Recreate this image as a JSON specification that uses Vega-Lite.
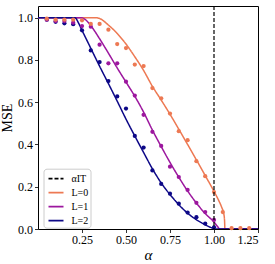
{
  "$schema": "https://vega.github.io/schema/vega-lite/v6.json",
  "width": 220,
  "height": 223,
  "autosize": {"type": "none"},
  "padding": {"left": 38, "top": 6, "right": 17, "bottom": 35},
  "background": "white",
  "config": {
    "view": {"stroke": "black", "strokeWidth": 1},
    "font": "Liberation Serif",
    "axis": {
      "labelFont": "Liberation Serif",
      "titleFont": "Liberation Serif",
      "labelFontSize": 12,
      "labelColor": "black",
      "titleColor": "black",
      "tickColor": "black",
      "domainColor": "black",
      "tickSize": 3.5,
      "tickWidth": 0.8,
      "grid": false,
      "domain": false,
      "labelPadding": 2
    },
    "legend": {
      "labelFont": "Liberation Serif",
      "labelFontSize": 10,
      "labelColor": "black"
    }
  },
  "datasets": {
    "lines": [
      {"a": 0, "mse": 1, "series": "L=0"},
      {"a": 0.33, "mse": 1, "series": "L=0"},
      {"a": 0.35, "mse": 0.996, "series": "L=0"},
      {"a": 0.40, "mse": 0.965, "series": "L=0"},
      {"a": 0.45, "mse": 0.925, "series": "L=0"},
      {"a": 0.50, "mse": 0.875, "series": "L=0"},
      {"a": 0.55, "mse": 0.815, "series": "L=0"},
      {"a": 0.60, "mse": 0.75, "series": "L=0"},
      {"a": 0.65, "mse": 0.675, "series": "L=0"},
      {"a": 0.70, "mse": 0.61, "series": "L=0"},
      {"a": 0.75, "mse": 0.543, "series": "L=0"},
      {"a": 0.80, "mse": 0.472, "series": "L=0"},
      {"a": 0.85, "mse": 0.40, "series": "L=0"},
      {"a": 0.90, "mse": 0.327, "series": "L=0"},
      {"a": 0.95, "mse": 0.253, "series": "L=0"},
      {"a": 1.00, "mse": 0.178, "series": "L=0"},
      {"a": 1.025, "mse": 0.138, "series": "L=0"},
      {"a": 1.045, "mse": 0.10, "series": "L=0"},
      {"a": 1.055, "mse": 0.075, "series": "L=0"},
      {"a": 1.06, "mse": 0.04, "series": "L=0"},
      {"a": 1.062, "mse": 0, "series": "L=0"},
      {"a": 1.25, "mse": 0, "series": "L=0"},
      {"a": 0, "mse": 1, "series": "L=1"},
      {"a": 0.245, "mse": 1, "series": "L=1"},
      {"a": 0.27, "mse": 0.99, "series": "L=1"},
      {"a": 0.30, "mse": 0.962, "series": "L=1"},
      {"a": 0.35, "mse": 0.90, "series": "L=1"},
      {"a": 0.40, "mse": 0.832, "series": "L=1"},
      {"a": 0.45, "mse": 0.762, "series": "L=1"},
      {"a": 0.50, "mse": 0.695, "series": "L=1"},
      {"a": 0.55, "mse": 0.628, "series": "L=1"},
      {"a": 0.60, "mse": 0.553, "series": "L=1"},
      {"a": 0.65, "mse": 0.468, "series": "L=1"},
      {"a": 0.70, "mse": 0.39, "series": "L=1"},
      {"a": 0.75, "mse": 0.315, "series": "L=1"},
      {"a": 0.80, "mse": 0.245, "series": "L=1"},
      {"a": 0.85, "mse": 0.18, "series": "L=1"},
      {"a": 0.90, "mse": 0.123, "series": "L=1"},
      {"a": 0.95, "mse": 0.073, "series": "L=1"},
      {"a": 1.00, "mse": 0.033, "series": "L=1"},
      {"a": 1.02, "mse": 0.012, "series": "L=1"},
      {"a": 1.033, "mse": 0, "series": "L=1"},
      {"a": 1.25, "mse": 0, "series": "L=1"},
      {"a": 0, "mse": 1, "series": "L=2"},
      {"a": 0.21, "mse": 1, "series": "L=2"},
      {"a": 0.23, "mse": 0.975, "series": "L=2"},
      {"a": 0.25, "mse": 0.94, "series": "L=2"},
      {"a": 0.30, "mse": 0.855, "series": "L=2"},
      {"a": 0.35, "mse": 0.77, "series": "L=2"},
      {"a": 0.40, "mse": 0.688, "series": "L=2"},
      {"a": 0.45, "mse": 0.605, "series": "L=2"},
      {"a": 0.50, "mse": 0.52, "series": "L=2"},
      {"a": 0.55, "mse": 0.44, "series": "L=2"},
      {"a": 0.60, "mse": 0.362, "series": "L=2"},
      {"a": 0.65, "mse": 0.285, "series": "L=2"},
      {"a": 0.70, "mse": 0.218, "series": "L=2"},
      {"a": 0.75, "mse": 0.163, "series": "L=2"},
      {"a": 0.80, "mse": 0.115, "series": "L=2"},
      {"a": 0.85, "mse": 0.075, "series": "L=2"},
      {"a": 0.90, "mse": 0.044, "series": "L=2"},
      {"a": 0.95, "mse": 0.02, "series": "L=2"},
      {"a": 0.98, "mse": 0.008, "series": "L=2"},
      {"a": 1.00, "mse": 0.002, "series": "L=2"},
      {"a": 1.01, "mse": 0, "series": "L=2"},
      {"a": 1.25, "mse": 0, "series": "L=2"}
    ],
    "points": [
      {"a": 0.05, "mse": 0.99, "series": "L=2"},
      {"a": 0.10, "mse": 0.98, "series": "L=2"},
      {"a": 0.15, "mse": 0.973, "series": "L=2"},
      {"a": 0.20, "mse": 0.969, "series": "L=2"},
      {"a": 0.25, "mse": 0.94, "series": "L=2"},
      {"a": 0.30, "mse": 0.845, "series": "L=2"},
      {"a": 0.35, "mse": 0.79, "series": "L=2"},
      {"a": 0.40, "mse": 0.70, "series": "L=2"},
      {"a": 0.45, "mse": 0.627, "series": "L=2"},
      {"a": 0.50, "mse": 0.57, "series": "L=2"},
      {"a": 0.55, "mse": 0.44, "series": "L=2"},
      {"a": 0.60, "mse": 0.385, "series": "L=2"},
      {"a": 0.65, "mse": 0.277, "series": "L=2"},
      {"a": 0.70, "mse": 0.213, "series": "L=2"},
      {"a": 0.75, "mse": 0.167, "series": "L=2"},
      {"a": 0.80, "mse": 0.12, "series": "L=2"},
      {"a": 0.85, "mse": 0.078, "series": "L=2"},
      {"a": 0.90, "mse": 0.056, "series": "L=2"},
      {"a": 0.95, "mse": 0.026, "series": "L=2"},
      {"a": 1.00, "mse": 0.008, "series": "L=2"},
      {"a": 0.05, "mse": 0.99, "series": "L=1"},
      {"a": 0.10, "mse": 0.984, "series": "L=1"},
      {"a": 0.15, "mse": 0.984, "series": "L=1"},
      {"a": 0.20, "mse": 0.976, "series": "L=1"},
      {"a": 0.25, "mse": 0.96, "series": "L=1"},
      {"a": 0.30, "mse": 0.957, "series": "L=1"},
      {"a": 0.35, "mse": 0.872, "series": "L=1"},
      {"a": 0.40, "mse": 0.784, "series": "L=1"},
      {"a": 0.45, "mse": 0.784, "series": "L=1"},
      {"a": 0.50, "mse": 0.697, "series": "L=1"},
      {"a": 0.55, "mse": 0.631, "series": "L=1"},
      {"a": 0.60, "mse": 0.54, "series": "L=1"},
      {"a": 0.65, "mse": 0.46, "series": "L=1"},
      {"a": 0.70, "mse": 0.393, "series": "L=1"},
      {"a": 0.75, "mse": 0.295, "series": "L=1"},
      {"a": 0.80, "mse": 0.246, "series": "L=1"},
      {"a": 0.85, "mse": 0.185, "series": "L=1"},
      {"a": 0.90, "mse": 0.124, "series": "L=1"},
      {"a": 0.95, "mse": 0.08, "series": "L=1"},
      {"a": 1.00, "mse": 0.043, "series": "L=1"},
      {"a": 0.05, "mse": 0.995, "series": "L=0"},
      {"a": 0.10, "mse": 0.99, "series": "L=0"},
      {"a": 0.15, "mse": 0.99, "series": "L=0"},
      {"a": 0.20, "mse": 0.99, "series": "L=0"},
      {"a": 0.25, "mse": 0.987, "series": "L=0"},
      {"a": 0.30, "mse": 0.97, "series": "L=0"},
      {"a": 0.35, "mse": 0.97, "series": "L=0"},
      {"a": 0.40, "mse": 0.943, "series": "L=0"},
      {"a": 0.45, "mse": 0.875, "series": "L=0"},
      {"a": 0.50, "mse": 0.856, "series": "L=0"},
      {"a": 0.55, "mse": 0.778, "series": "L=0"},
      {"a": 0.60, "mse": 0.771, "series": "L=0"},
      {"a": 0.65, "mse": 0.667, "series": "L=0"},
      {"a": 0.70, "mse": 0.618, "series": "L=0"},
      {"a": 0.75, "mse": 0.546, "series": "L=0"},
      {"a": 0.80, "mse": 0.463, "series": "L=0"},
      {"a": 0.85, "mse": 0.42, "series": "L=0"},
      {"a": 0.90, "mse": 0.321, "series": "L=0"},
      {"a": 0.95, "mse": 0.25, "series": "L=0"},
      {"a": 1.00, "mse": 0.175, "series": "L=0"},
      {"a": 1.05, "mse": 0.08, "series": "L=0"},
      {"a": 1.10, "mse": 0.004, "series": "L=0"},
      {"a": 1.15, "mse": 0.004, "series": "L=0"},
      {"a": 1.20, "mse": 0.004, "series": "L=0"}
    ],
    "threshold": [
      {"a": 1.0, "series": "αIT"}
    ]
  },
  "layer": [
    {
      "data": {"name": "lines"},
      "mark": {"type": "line", "strokeWidth": 1.5, "interpolate": "monotone", "clip": true},
      "encoding": {
        "x": {
          "field": "a", "type": "quantitative",
          "scale": {"domain": [0, 1.25], "nice": false, "zero": false},
          "axis": {"values": [0.25, 0.5, 0.75, 1.0, 1.25], "format": ".2f", "title": "α", "titleFontSize": 15, "titleFontStyle": "italic", "titleFontWeight": "normal", "titlePadding": 2}
        },
        "y": {
          "field": "mse", "type": "quantitative",
          "scale": {"domain": [0, 1.055], "nice": false},
          "axis": {"values": [0, 0.2, 0.4, 0.6, 0.8, 1.0], "format": ".1f", "title": "MSE", "titleFontSize": 14, "titleFontWeight": "normal", "titlePadding": 3}
        },
        "color": {
          "field": "series", "type": "nominal",
          "scale": {"domain": ["αIT", "L=0", "L=1", "L=2"], "range": ["black", "#ed7953", "#9c179e", "#0d0887"]},
          "legend": {
            "title": null, "orient": "none", "legendX": 5.5, "legendY": 162.7,
            "symbolType": "stroke", "symbolSize": 225, "symbolStrokeWidth": 1.8, "symbolOffset": 2.5,
            "fillColor": "white", "strokeColor": "#cccccc", "cornerRadius": 3, "padding": 1.5,
            "rowPadding": -3.7, "labelOffset": 7
          }
        },
        "strokeDash": {
          "field": "series", "type": "nominal",
          "scale": {"domain": ["αIT", "L=0", "L=1", "L=2"], "range": [[4, 2], [1, 0], [1, 0], [1, 0]]},
          "legend": {
            "title": null, "orient": "none", "legendX": 5.5, "legendY": 162.7,
            "symbolType": "stroke", "symbolSize": 225, "symbolStrokeWidth": 1.8, "symbolOffset": 2.5,
            "fillColor": "white", "strokeColor": "#cccccc", "cornerRadius": 3, "padding": 1.5,
            "rowPadding": -3.7, "labelOffset": 7
          }
        },
        "order": {"field": "a"}
      }
    },
    {
      "data": {"name": "points"},
      "mark": {"type": "circle", "size": 18, "opacity": 1},
      "encoding": {
        "x": {"field": "a", "type": "quantitative"},
        "y": {"field": "mse", "type": "quantitative"},
        "color": {"field": "series", "type": "nominal"}
      }
    },
    {
      "data": {"name": "threshold"},
      "mark": {"type": "rule", "strokeWidth": 1.2},
      "encoding": {
        "x": {"field": "a", "type": "quantitative"},
        "color": {"field": "series", "type": "nominal"},
        "strokeDash": {"field": "series", "type": "nominal"}
      }
    }
  ]
}
